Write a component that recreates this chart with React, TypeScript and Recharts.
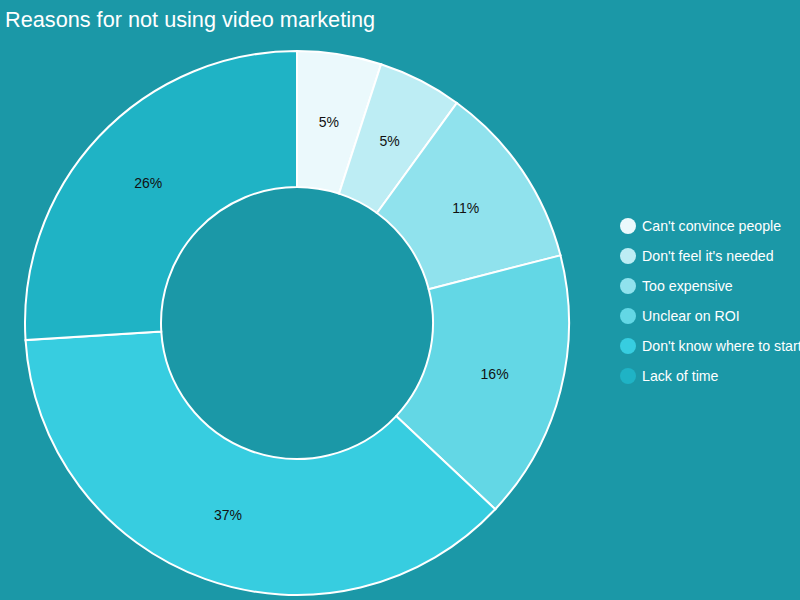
import { PieChart, Pie, Cell, Legend } from 'recharts'

const reasons = [
  "Can't convince people",
  "Don't feel it's needed",
  'Too expensive',
  'Unclear on ROI',
  "Don't know where to start",
  'Lack of time',
]
const shares = [5, 5, 11, 16, 37, 26]
const colors = ['#ebf9fc', '#bdedf4', '#90e2ed', '#63d7e5', '#37cde0', '#1fb3c5']

const data = reasons.map((name, i) => ({ name, value: shares[i] }))

const RAD = Math.PI / 180

const renderLabel = (p: any) => {
  const r = (p.innerRadius + p.outerRadius) / 2
  const x = p.cx + r * Math.cos(-p.midAngle * RAD)
  const y = p.cy + r * Math.sin(-p.midAngle * RAD)
  return (
    <text x={x} y={y} fill="#111" fontSize={14} textAnchor="middle" dominantBaseline="central">
      {`${p.value}%`}
    </text>
  )
}

const renderLegend = () => (
  <div>
    {reasons.map((name, i) => (
      <div key={name} style={{ display: 'flex', alignItems: 'center', height: 30, whiteSpace: 'nowrap' }}>
        <span style={{ width: 16, height: 16, borderRadius: 8, background: colors[i], marginRight: 6 }} />
        <span style={{ color: '#fff', fontSize: 14.2 }}>{name}</span>
      </div>
    ))}
  </div>
)

export default function App() {
  return (
    <div style={{ position: 'absolute', left: 0, top: 0, width: 800, height: 600, overflow: 'hidden', background: '#1b98a7', fontFamily: '"Liberation Sans", Arial, sans-serif' }}>
      <div style={{ position: 'absolute', left: 5, top: 7, color: '#fff', fontSize: 21.7 }}>
        Reasons for not using video marketing
      </div>
      <PieChart width={800} height={600} margin={{ top: 0, right: 0, bottom: 0, left: 0 }} style={{ position: 'absolute', left: 0, top: 0 }}>
        <Pie
          data={data}
          dataKey="value"
          nameKey="name"
          cx={297}
          cy={323}
          innerRadius={136}
          outerRadius={272}
          startAngle={90}
          endAngle={-270}
          stroke="#fff"
          strokeWidth={2}
          label={renderLabel}
          labelLine={false}
          isAnimationActive={false}
        >
          {data.map((d, i) => (
            <Cell key={d.name} fill={colors[i]} />
          ))}
        </Pie>
        <Legend
          content={renderLegend}
          wrapperStyle={{ position: 'absolute', left: 620, top: 211, width: 200 }}
        />
      </PieChart>
    </div>
  )
}
